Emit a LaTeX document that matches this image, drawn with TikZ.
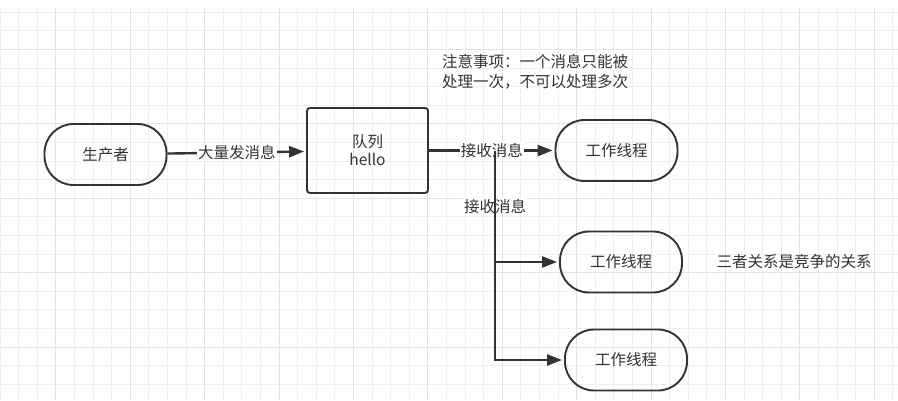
\documentclass[tikz,border=0pt]{standalone}
\usepackage{fontspec}
\newfontfamily\cjk{Noto Sans CJK SC}
\usetikzlibrary{arrows.meta,positioning}
\definecolor{ink}{HTML}{333333}
\definecolor{gridminor}{HTML}{EFEFEF}
\definecolor{gridmajor}{HTML}{E3E3E3}
\tikzset{
  pill/.style={draw=ink, line width=1.9pt, rounded corners=29pt, minimum width=122pt,
    minimum height=61pt, text=ink, font=\cjk\fontsize{15.5}{18}\selectfont},
  queuebox/.style={draw=ink, line width=1.9pt, rounded corners=3pt, minimum width=121pt,
    minimum height=85pt, align=center, text=ink, font=\cjk\fontsize{15.5}{18}\selectfont},
  msg/.style={fill=white, inner sep=1pt, text=ink, font=\cjk\fontsize{15.5}{18}\selectfont},
  note/.style={align=left, inner sep=0pt, text=ink, font=\cjk\fontsize{15.5}{20}\selectfont},
  link/.style={draw=ink, line width=2.4pt, ->, shorten >=2pt},
}

\begin{document}
\begin{tikzpicture}[x=1pt, y=-1pt, >={Triangle[length=15pt,width=11pt]}, on grid]
    \useasboundingbox (0,0) rectangle (898,400);
    \fill[white] (0,0) rectangle (898,400);
    % background grid
    \foreach \i in {0,...,48}
      \draw[gridminor, line width=0.8pt] ({18.6*\i},8) -- ({18.6*\i},400);
    \foreach \j in {0,...,20}
      \draw[gridminor, line width=0.8pt] (0,{12.1+18.6*\j}) -- (898,{12.1+18.6*\j});
    \foreach \i in {3,7,...,47}
      \draw[gridmajor, line width=0.8pt] ({18.6*\i},8) -- ({18.6*\i},400);
    \foreach \j in {2,6,...,18}
      \draw[gridmajor, line width=0.8pt] (0,{12.1+18.6*\j}) -- (898,{12.1+18.6*\j});

    \node[pill] (prod) at (105.5,154.5) {生产者};
    \node[queuebox] (queue) [right=262pt of prod, yshift=4pt] {队列\\hello};
    \node[pill] (w1) [right=249pt of queue] {工作线程};
    \node[pill] (w2) [below right=111.5pt and 4.5pt of w1] {工作线程};
    \node[pill] (w3) [below right=98pt and 5pt of w2] {工作线程};
    \node[note, anchor=west] (rule) at (442,71.5) {注意事项：一个消息只能被\\处理一次，不可以处理多次};
    \node[note] (race) [right=173pt of w2] {三者关系是竞争的关系};

    \coordinate (split) at (495,0 |- queue.east);

    \draw[link] (prod) -- node[msg] {大量发消息} (queue);
    \draw[link] (queue) -- node[msg] {接收消息} (w1);
    \draw[link] (split) |- node[msg, pos=0.25] {接收消息} (w2);
    \draw[link] (split) |- (w3);
\end{tikzpicture}
\end{document}
